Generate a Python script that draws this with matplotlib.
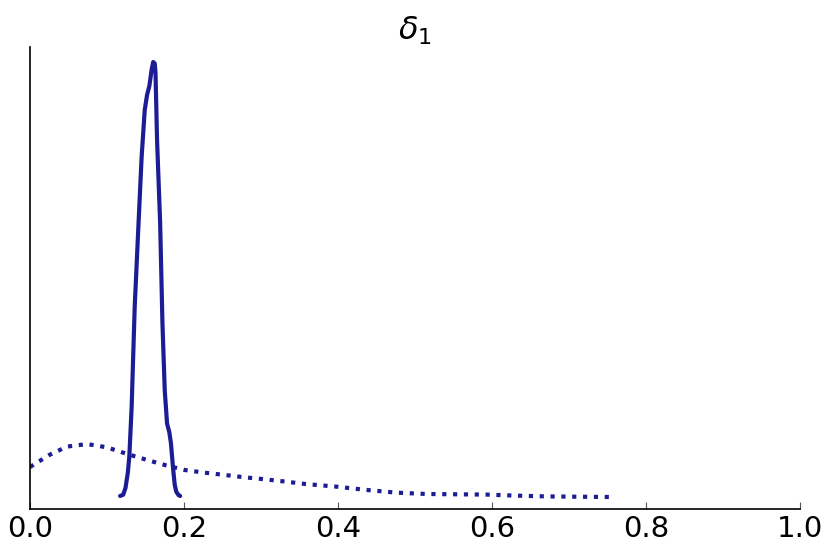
import numpy as np
import matplotlib
matplotlib.use("Agg")
import matplotlib.pyplot as plt

C_NAVY = "#1c1c94"

# posterior (solid)
post_x = [0.117, 0.121, 0.124, 0.127, 0.129, 0.132, 0.136, 0.141, 0.145, 0.149,
          0.152, 0.155, 0.158, 0.160, 0.162, 0.163, 0.165, 0.169, 0.172, 0.175,
          0.178, 0.181, 0.183, 0.186, 0.188, 0.190, 0.193, 0.195]
post_y = [0.07, 0.15, 0.6, 1.6, 2.7, 6.0, 12.7, 18.3, 22.7, 25.8,
          26.8, 27.4, 28.5, 29.0, 28.9, 28.3, 23.8, 18.3, 11.6, 7.1,
          4.9, 4.3, 3.6, 1.8, 0.8, 0.35, 0.12, 0.07]

# prior (dotted)
prior_x = [0.0, 0.025, 0.048, 0.074, 0.100, 0.126, 0.152, 0.178, 0.201, 0.227,
           0.253, 0.279, 0.305, 0.333, 0.357, 0.398, 0.437, 0.476, 0.515, 0.554,
           0.593, 0.632, 0.671, 0.710, 0.755]
prior_y = [2.0, 2.8, 3.36, 3.53, 3.31, 2.87, 2.47, 2.09, 1.80, 1.62,
           1.47, 1.31, 1.18, 1.02, 0.87, 0.69, 0.47, 0.29, 0.20, 0.18,
           0.16, 0.09, 0.04, 0.02, 0.0]

xticks = [0.0, 0.2, 0.4, 0.6, 0.8, 1.0]

fig = plt.figure(figsize=(8.3, 5.54), dpi=100)
ax = fig.add_axes([30/830, 45/554, 770/830, 462/554])

ax.plot(post_x, post_y, color=C_NAVY, lw=3.0, solid_capstyle="round",
        solid_joinstyle="round")
ax.plot(prior_x, prior_y, color=C_NAVY, lw=3.0, linestyle=(0, (1, 1.6)),
        dash_capstyle="butt")

ax.set_xlim(0, 1)
ax.set_ylim(-0.8, 30)
ax.set_xticks(xticks)
ax.set_xticklabels([f"{t:.1f}" for t in xticks])
ax.set_yticks([])

ax.spines[["top", "right"]].set_visible(False)
ax.spines["left"].set_linewidth(1.2)
ax.spines["bottom"].set_linewidth(1.2)
ax.tick_params(axis="x", direction="in", length=5, width=0.8, color="#555555",
               labelsize=21, pad=4)

ax.set_title(r"$\delta_1$", fontsize=23, pad=4)

fig.savefig("out.png", dpi=100)
